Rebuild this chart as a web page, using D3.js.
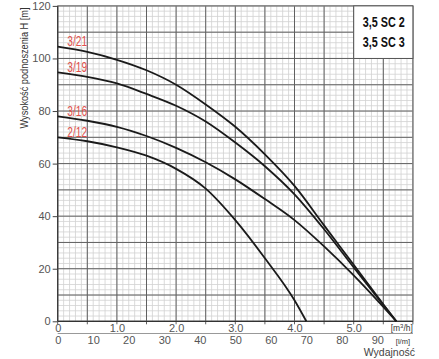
<!DOCTYPE html>
<html><head><meta charset="utf-8">
<script src="https://cdn.jsdelivr.net/npm/d3@7"></script>
<style>
html,body{margin:0;padding:0;background:#fff;}
svg{display:block;font-family:"Liberation Sans",Arial,sans-serif;}
</style></head>
<body><svg id="c" width="439" height="359"></svg>
<script>
// ---- data ----
const curveNames = ["3/21","3/19","3/16","2/12"];
const flowM3h = [0,0.5,1.0,1.5,2.0,2.5,3.0,3.5,4.0,4.5,5.0,5.5,5.72];
const head321 = [104.5,102.5,99.5,95.5,90,82.5,74,63.5,51.5,36.5,21.5,6.5,0];
const head319 = [94.7,93,90.5,86.5,82,76,68,59,48.3,35,20.5,6.2,0];
const head316 = [78,76.3,74,70.5,66,60.5,54,46.5,38.5,28.5,17.5,5.5,0];
const flow212 = [0,0.5,1.0,1.5,2.0,2.5,3.0,3.5,4.0,4.2];
const head212 = [70,68.5,66.2,63,58,50.5,38.5,24,8,0];
const xTicksM3h = [0,1,2,3,4,5];
const xTickLabelsM3h = ["0","1.0","2.0","3.0","4.0","5.0"];
const xTicksLmin = [0,10,20,30,40,50,60,70,80,90];
const yTicks = [0,20,40,60,80,100,120];
const legendLines = ["3,5 SC 2","3,5 SC 3"];

const svg = d3.select("#c");
const x = d3.scaleLinear().domain([0,6]).range([57.7,412.9]);
const xl = d3.scaleLinear().domain([0,100]).range([57.7,412.9]);
const y = d3.scaleLinear().domain([0,120]).range([321.3,5.9]);

// grid
const g = svg.append("g");
d3.range(0,6.001,0.1).forEach(v=>{
  g.append("line").attr("x1",x(v)).attr("x2",x(v)).attr("y1",y(0)).attr("y2",y(120))
   .attr("stroke","#d2d2d2").attr("stroke-width",0.8);
});
d3.range(0,120.001,2).forEach(v=>{
  g.append("line").attr("y1",y(v)).attr("y2",y(v)).attr("x1",x(0)).attr("x2",x(6))
   .attr("stroke","#d2d2d2").attr("stroke-width",0.8);
});
d3.range(0,6.001,0.5).forEach(v=>{
  g.append("line").attr("x1",x(v)).attr("x2",x(v)).attr("y1",y(0)+3).attr("y2",y(120))
   .attr("stroke","#606060").attr("stroke-width",1);
});
d3.range(0,120.001,10).forEach(v=>{
  g.append("line").attr("y1",y(v)).attr("y2",y(v)).attr("x1",x(0)).attr("x2",x(6))
   .attr("stroke","#606060").attr("stroke-width",1);
});
// frame
g.append("rect").attr("x",x(0)).attr("y",y(120)).attr("width",x(6)-x(0)).attr("height",y(0)-y(120))
 .attr("fill","none").attr("stroke","#888").attr("stroke-width",1);
g.append("line").attr("x1",x(0)).attr("x2",x(0)).attr("y1",y(0)).attr("y2",y(120)).attr("stroke","#333").attr("stroke-width",1.2);
g.append("line").attr("x1",x(0)).attr("x2",x(6)).attr("y1",y(0)).attr("y2",y(0)).attr("stroke","#333").attr("stroke-width",1.2);

// legend box
g.append("rect").attr("x",x(5)).attr("y",y(120)).attr("width",x(6)-x(5)).attr("height",y(100)-y(120))
 .attr("fill","#fff").attr("stroke","#555").attr("stroke-width",1);
legendLines.forEach((t,i)=>{
  svg.append("text").attr("transform",`translate(${(x(5)+x(6))/2+0.5},${27+i*20}) scale(0.72,1)`)
   .attr("text-anchor","middle")
   .attr("font-size",15).attr("font-weight","bold").attr("fill","#111").text(t);
});

// y axis
const ya = svg.append("g").attr("transform",`translate(${x(0)},0)`)
  .call(d3.axisLeft(y).tickValues(yTicks).tickSize(5).tickPadding(2).tickFormat(d3.format("d")));
ya.select(".domain").remove();
ya.selectAll("line").attr("stroke","#444");
ya.selectAll("text").attr("font-size",11).attr("fill","#555").attr("font-family","Liberation Sans, Arial");

// x axis m3/h
const xa = svg.append("g").attr("transform",`translate(0,${y(0)})`)
  .call(d3.axisBottom(x).tickValues(xTicksM3h).tickSize(0).tickPadding(3)
  .tickFormat((d,i)=>xTickLabelsM3h[i]));
xa.select(".domain").remove();
xa.selectAll("text").attr("font-size",11).attr("fill","#555").attr("font-family","Liberation Sans, Arial");
svg.append("text").attr("x",x(6)).attr("y",331).attr("text-anchor","end").attr("font-size",8.5).attr("fill","#333")
  .html('[m<tspan baseline-shift="super" font-size="6">3</tspan>/h]');

// x axis l/min
const xb = svg.append("g").attr("transform",`translate(0,333.5)`)
  .call(d3.axisBottom(xl).tickValues(xTicksLmin).tickSize(0).tickPadding(3).tickFormat(d3.format("d")));
xb.select(".domain").attr("stroke","#999").attr("d",`M${x(0)},0H${x(6)}`);
xb.selectAll("text").attr("font-size",11).attr("fill","#555").attr("font-family","Liberation Sans, Arial");
svg.append("text").attr("x",410).attr("y",344).attr("text-anchor","end").attr("font-size",7.5).attr("fill","#333").text("[l/m]");
svg.append("text").attr("x",415).attr("y",356).attr("text-anchor","end").attr("font-size",10.5).attr("fill","#444").text("Wydajność");

// y title
svg.append("text").attr("transform","translate(28,68) rotate(-90) scale(0.8,1)").attr("text-anchor","middle")
  .attr("font-size",11.5).attr("fill","#333")
  .text("Wysokość podnoszenia H [m]");

// curves
const line = d3.line().x(d=>x(d[0])).y(d=>y(d[1])).curve(d3.curveMonotoneX);
const series = [
  flowM3h.map((q,i)=>[q,head321[i]]),
  flowM3h.map((q,i)=>[q,head319[i]]),
  flowM3h.map((q,i)=>[q,head316[i]]),
  flow212.map((q,i)=>[q,head212[i]])
];
series.forEach(s=>{
  svg.append("path").attr("d",line(s)).attr("fill","none").attr("stroke","#1a1a1a").attr("stroke-width",1.8);
});
// labels
series.forEach((s,i)=>{
  svg.append("text").attr("transform",`translate(${x(0.33)},${y(s[0][1])-0.5}) scale(0.68,1)`)
   .attr("text-anchor","middle")
   .attr("font-size",15).attr("fill","#e0504c").text(curveNames[i]);
});
</script></body></html>
